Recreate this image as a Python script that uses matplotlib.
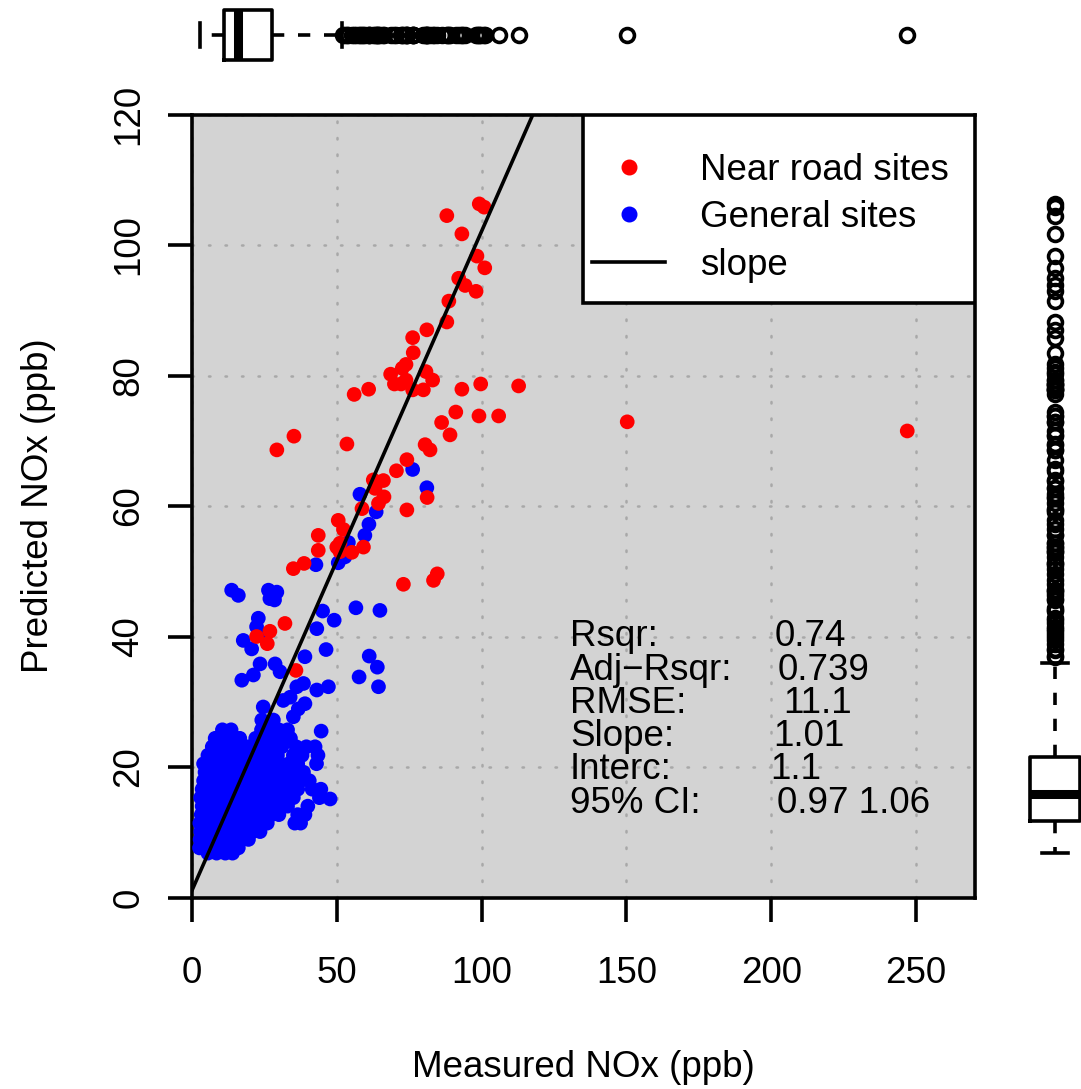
import matplotlib
matplotlib.use("Agg")
import matplotlib.pyplot as plt
from matplotlib.lines import Line2D
from matplotlib.patches import Rectangle

plt.rcParams['font.family'] = ['Liberation Sans', 'DejaVu Sans']

# ---------------- data ----------------
near_x = [99.2, 100.9, 88.0, 93.2, 98.4, 101.1, 92.1, 94.3, 98.1, 88.7, 88.0, 81.1, 76.2, 76.4,
          73.9, 72.6, 68.6, 80.8, 83.1, 69.9, 72.2, 73.9, 76.2, 79.9, 56.0, 61.0, 93.2, 99.7,
          112.8, 91.1, 86.2, 99.1, 105.9, 89.1, 35.2, 29.3, 53.5, 80.5, 82.2, 74.2, 70.6, 62.6,
          66.1, 63.2, 66.3, 64.4, 81.2, 58.7, 74.2, 50.5, 52.3, 51.1, 50.0, 51.1, 55.2, 59.2,
          43.6, 43.6, 35.0, 38.7, 73.0, 83.4, 84.7, 32.1, 22.3, 26.9, 26.0, 35.9, 150.3, 247.0]
near_y = [106.3, 105.8, 104.5, 101.7, 98.3, 96.5, 94.9, 93.8, 92.9, 91.4, 88.2, 87.0, 85.8, 83.5,
          81.7, 81.1, 80.2, 80.6, 79.3, 78.7, 78.7, 79.3, 77.8, 77.8, 77.1, 77.9, 77.9, 78.7,
          78.4, 74.4, 72.8, 73.8, 73.8, 70.9, 70.7, 68.6, 69.5, 69.4, 68.6, 67.1, 65.4, 64.0,
          63.9, 62.7, 61.4, 60.4, 61.3, 59.6, 59.4, 57.8, 56.4, 54.3, 53.7, 53.0, 52.9, 53.7,
          55.5, 53.2, 50.4, 51.2, 48.0, 48.6, 49.6, 42.0, 40.0, 40.8, 38.9, 34.8, 72.9, 71.5]

# dense cluster of general sites, read row by row
general_rows_y = [6.8, 7.6, 8.9, 10.1, 11.4, 12.7, 14.0, 15.3, 16.6, 17.9, 19.2, 20.5, 21.8,
                  23.1, 24.4, 25.7]
general_rows_x = [
    [5.5, 8.5, 11.5, 14.0],
    [2.6, 4.0, 7.0, 10.0, 13.0, 16.0],
    [2.8, 5.5, 8.5, 11.5, 14.5, 17.5, 19.5],
    [3.0, 6.0, 9.0, 12.0, 15.0, 18.0, 21.0, 23.5],
    [2.7, 5.0, 8.0, 11.0, 14.0, 17.0, 20.0, 23.0, 26.0, 35.5, 37.5],
    [3.2, 6.5, 9.5, 12.5, 15.5, 18.5, 21.5, 24.5, 27.5, 30.0, 36.5, 39.0],
    [3.5, 6.0, 9.0, 12.0, 15.0, 18.0, 21.0, 24.0, 27.0, 30.0, 33.0, 40.0],
    [3.0, 5.5, 8.5, 11.5, 14.5, 17.5, 20.5, 23.5, 26.5, 29.5, 32.5, 35.0, 44.0],
    [3.5, 6.5, 9.5, 12.5, 15.5, 18.5, 21.5, 24.5, 27.5, 30.5, 33.5, 36.5, 41.5, 44.5],
    [4.0, 7.0, 10.0, 13.0, 16.0, 19.0, 22.0, 25.0, 28.0, 31.0, 34.0, 37.5, 40.5],
    [4.5, 7.5, 10.5, 13.5, 16.5, 19.5, 22.5, 25.5, 28.5, 31.5, 34.5, 38.5],
    [4.0, 6.5, 9.5, 12.5, 15.5, 18.5, 21.5, 24.5, 27.5, 30.5, 33.5, 36.5, 43.0],
    [5.5, 8.5, 11.5, 14.5, 17.5, 20.5, 23.5, 26.5, 29.5, 35.0, 38.0, 43.5],
    [7.0, 10.0, 13.0, 16.0, 19.5, 22.5, 25.5, 28.5, 31.0, 36.0, 39.5, 42.5],
    [8.0, 11.0, 14.0, 16.5, 22.0, 25.0, 28.0, 31.0, 34.0],
    [10.5, 13.5, 24.0, 27.0, 30.0, 33.0],
]
# scattered general sites outside the dense cluster
general_extra_x = [13.7, 16.0, 26.4, 29.3, 26.9, 28.5, 22.9, 22.3, 17.7, 20.6, 23.5, 28.7, 30.4,
                   23.5, 21.2, 17.2, 39.0, 43.1, 45.1, 49.1, 46.3, 38.5, 36.2, 33.9, 31.5, 43.1,
                   47.1, 39.0, 36.7, 35.0, 24.6, 28.1, 24.1, 44.6, 56.6, 64.9, 61.2, 64.0, 57.7,
                   64.4, 47.7, 76.2, 81.1, 58.0, 63.6, 61.1, 59.7, 54.0, 52.8, 50.5, 42.8]
general_extra_y = [47.1, 46.3, 47.1, 46.8, 45.8, 45.6, 42.8, 41.5, 39.4, 38.1, 40.4, 35.8, 34.6,
                   35.8, 34.1, 33.3, 36.9, 41.2, 43.9, 42.5, 38.0, 32.8, 32.3, 30.7, 30.2, 31.8,
                   32.3, 29.7, 28.9, 27.7, 29.2, 27.2, 27.2, 25.5, 44.4, 44.0, 37.0, 35.3, 33.8,
                   32.3, 15.1, 65.6, 62.8, 61.8, 59.1, 57.2, 55.5, 54.4, 52.2, 51.3, 51.0]

general_x = []
general_y = []
for yv, xs in zip(general_rows_y, general_rows_x):
    general_x += xs
    general_y += [yv] * len(xs)
general_x += general_extra_x
general_y += general_extra_y

slope = 1.01
interc = 1.1

stat_labels = ["Rsqr:", "Adj\u2212Rsqr:", "RMSE:", "Slope:", "Interc:", "95% CI:"]
stat_values = ["0.74", "0.739", "11.1", "1.01", "1.1", "0.97 1.06"]

# marginal boxplot statistics: whislo, q1, median, q3, whishi
measured_box = [2.6, 10.9, 16.0, 27.7, 51.9]
predicted_box = [6.8, 11.8, 15.9, 21.6, 36.0]

x_ticks = [0, 50, 100, 150, 200, 250]
y_ticks = [0, 20, 40, 60, 80, 100, 120]
legend_labels = ["Near road sites", "General sites", "slope"]

# ---------------- layout ----------------
W, H = 1081, 1089
FS = 26.5
LW = 2.6
fig = plt.figure(figsize=(W / 100, H / 100), dpi=100)


def rect(l, t, r, b):
    return [l / W, 1 - b / H, (r - l) / W, (b - t) / H]


ax = fig.add_axes(rect(192, 114.5, 975, 897.5))
ax.set_facecolor('#d3d3d3')
ax.set_xlim(0, 270.4)
ax.set_ylim(0, 120)
ax.set_xticks(x_ticks)
ax.set_yticks(y_ticks)
ax.grid(True, color='#a8a8a8', linestyle=(0, (0.6, 6.0)), linewidth=1.8,
        dash_capstyle='round')
ax.set_axisbelow(True)
for sp in ax.spines.values():
    sp.set_linewidth(LW)
ax.tick_params(axis='both', direction='out', length=17.3, width=LW, labelsize=FS)
ax.tick_params(axis='x', pad=24.5)
ax.tick_params(axis='y', pad=15.5)
for lab in ax.get_yticklabels():
    lab.set_rotation(90)
    lab.set_va('center')

ax.scatter(general_x, general_y, s=112, c='#0000ff', edgecolors='none', zorder=3)
ax.scatter(near_x, near_y, s=112, c='#ff0000', edgecolors='none', zorder=3)
ax.axline((0, interc), slope=slope, color='black', lw=LW, zorder=4)

# legend
ax.add_patch(Rectangle((0.499, 0.7596), 0.501, 0.2404, transform=ax.transAxes,
                       facecolor='white', edgecolor='black', lw=LW, zorder=5))
handles = [Line2D([], [], marker='o', ls='none', color='#ff0000', markersize=10.5),
           Line2D([], [], marker='o', ls='none', color='#0000ff', markersize=10.5),
           Line2D([], [], color='black', lw=LW)]
leg = ax.legend(handles, legend_labels, loc='upper left', bbox_to_anchor=(0.5105, 0.951),
                frameon=False, borderpad=0, borderaxespad=0, handlelength=2.0,
                handletextpad=0.94, labelspacing=0.34, fontsize=FS)
leg.set_zorder(6)

# statistics text
label_x = 130.5
value_x = [201.3, 202.3, 204.1, 200.6, 199.6, 202.1]
base_y = [38.5, 33.4, 28.3, 23.2, 18.1, 13.0]
for lab, val, vx, by in zip(stat_labels, stat_values, value_x, base_y):
    ax.text(label_x, by, lab, fontsize=FS, va='baseline', ha='left', zorder=6)
    ax.text(vx, by, val, fontsize=FS, va='baseline', ha='left', zorder=6)

fig.text(583.5 / W, 1 - 1076.7 / H, "Measured NOx (ppb)", ha='center', va='baseline',
         fontsize=FS)
fig.text(48 / W, 1 - 506 / H, "Predicted NOx (ppb)", ha='center', va='baseline',
         rotation=90, rotation_mode='anchor', fontsize=FS)

# ---------------- marginal boxplots ----------------
all_x = near_x + general_x
all_y = near_y + general_y
meas_fliers = [v for v in all_x if v > measured_box[4] or v < measured_box[0]]
pred_fliers = [v for v in all_y if v > predicted_box[4] or v < predicted_box[0]]


def stats(b, fl):
    return dict(whislo=b[0], q1=b[1], med=b[2], q3=b[3], whishi=b[4], fliers=fl, label='')


box_kw = dict(showfliers=True, manage_ticks=False,
              boxprops=dict(lw=LW, color='black'),
              whiskerprops=dict(lw=LW, color='black', linestyle=(0, (3.4, 3.8))),
              capprops=dict(lw=LW, color='black'),
              medianprops=dict(lw=6.5, color='black', solid_capstyle='butt'),
              flierprops=dict(marker='o', markerfacecolor='none', markeredgecolor='black',
                              markeredgewidth=2.6, markersize=10))

ax_top = fig.add_axes(rect(192, 0, 975, 70))
try:
    ax_top.bxp([stats(measured_box, meas_fliers)], positions=[0.5], widths=[0.714],
               capwidths=[0.357], orientation='horizontal', **box_kw)
except TypeError:
    ax_top.bxp([stats(measured_box, meas_fliers)], positions=[0.5], widths=[0.714],
               capwidths=[0.357], vert=False, **box_kw)
ax_top.set_xlim(0, 270.4)
ax_top.set_ylim(0, 1)
ax_top.axis('off')

ax_right = fig.add_axes(rect(1000, 114.5, 1081, 897.5))
ax_right.bxp([stats(predicted_box, pred_fliers)], positions=[0.679], widths=[0.617],
             capwidths=[0.31], **box_kw)
ax_right.set_xlim(0, 1)
ax_right.set_ylim(0, 120)
ax_right.axis('off')

fig.savefig('out.png', dpi=100)
